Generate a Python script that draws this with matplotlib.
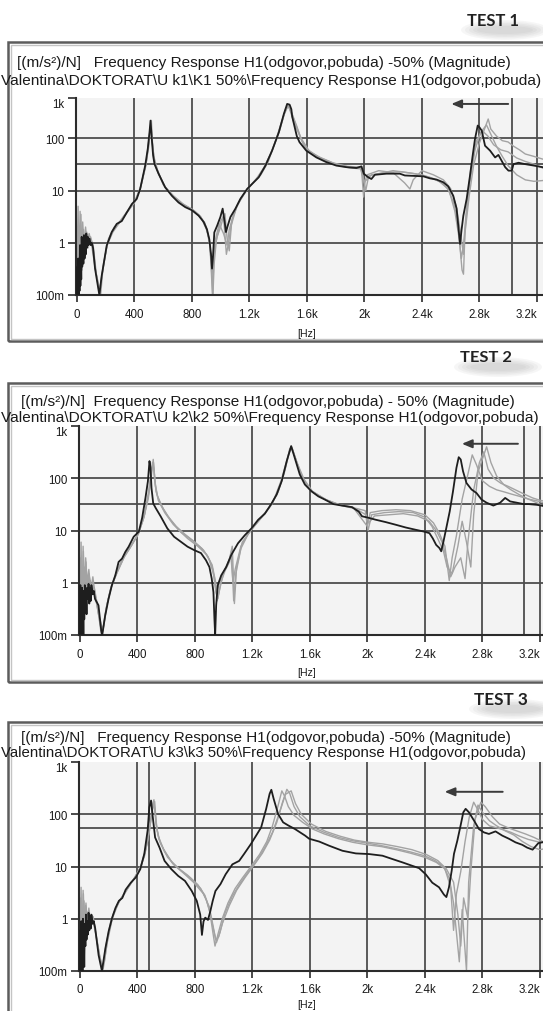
import matplotlib
matplotlib.use('Agg')
import matplotlib.pyplot as plt
from matplotlib.patches import Rectangle, Ellipse
from matplotlib.ticker import FixedLocator, FixedFormatter, NullLocator

W, H, DPI = 543, 1012, 100

# ---------------- data ----------------
xticks = [0, 400, 800, 1200, 1600, 2000, 2400, 2800, 3200]
xtick_labels = ['0', '400', '800', '1.2k', '1.6k', '2k', '2.4k', '2.8k', '3.2k']
yticks = [0.1, 1, 10, 100]
ytick_labels = ['100m', '1', '10', '100']
top_label = '1k'

test_labels = ['TEST 1', 'TEST 2', 'TEST 3']
title_line1 = ['[(m/s\u00b2)/N]   Frequency Response H1(odgovor,pobuda) -50% (Magnitude)',
               '[(m/s\u00b2)/N]  Frequency Response H1(odgovor,pobuda) - 50% (Magnitude)',
               '[(m/s\u00b2)/N]   Frequency Response H1(odgovor,pobuda) -50% (Magnitude)']
title_line2 = [r'Valentina\DOKTORAT\U k1\K1 50%\Frequency Response H1(odgovor,pobuda)',
               r'Valentina\DOKTORAT\U k2\k2 50%\Frequency Response H1(odgovor,pobuda)',
               r'Valentina\DOKTORAT\U k3\k3 50%\Frequency Response H1(odgovor,pobuda)']
x_unit = '[Hz]'

# cursor lines (Hz, magnitude)
cursor_f = [3027, 3091, 484]
cursor_m = [31.8, 31.6, 54.6]

# panel 1 (TEST 1)
t1_black = [(0,0.1),(3,0.35),(6,0.1),(9,0.5),(12,0.1),(15,0.3),(18,0.12),(21,0.9),(24,0.15),(27,0.6),
            (30,0.2),(33,1.3),(37,0.35),(41,0.8),(45,0.4),(49,1.4),(53,0.5),(57,1.2),(61,0.6),(65,1.5),
            (70,0.8),(75,1.3),(80,0.9),(88,1.2),(96,0.9),(104,1.0),(112,0.8),(126,0.32),(149,0.13),(156,0.1),
            (172,0.23),(207,0.88),(242,1.6),(277,2.3),(312,2.6),(347,3.8),(382,5.5),(416,6.9),(440,10.7),
            (475,30),(493,63),(505,130),(512,218),(521,97),(530,47),(540,32),(568,21),(614,11.5),(661,7.9),
            (707,5.9),(754,4.8),(800,4.2),(847,3.3),(882,2.5),(905,1.8),(921,1.17),(933,0.61),(940,0.32),
            (947,0.56),(956,1.58),(975,2.1),(998,3.1),(1014,4.5),(1028,2.5),(1037,1.6),(1049,2.1),(1068,3.1),
            (1103,4.5),(1137,6.9),(1184,10.7),(1219,13.4),(1265,17.9),(1312,30),(1358,58),(1405,130),
            (1440,293),(1463,455),(1480,440),(1492,360),(1498,260),(1514,170),(1530,110),(1549,84),(1596,58),
            (1666,43),(1735,35),(1805,30),(1875,28),(1945,27),(1980,29),(1996,21),(2026,18),(2049,16.6),
            (2073,20),(2154,21),(2247,21),(2282,19.4),(2410,18.7),(2456,17.1),(2503,16.2),(2549,14.4),
            (2584,12),(2619,7.9),(2642,4.5),(2656,1.8),(2666,0.95),(2677,1.8),(2689,3.3),(2712,6.9),(2735,19),
            (2754,47),(2770,97),(2789,175),(2801,162),(2817,140),(2840,72),(2875,58),(2910,43),(2933,48),
            (2956,37),(2980,28),(3003,24),(3026,24),(3038,32),(3073,34),(3119,32),(3180,30),(3240,28)]
t1_gray_a = [(0,0.3),(8,5),(14,0.4),(22,4),(30,0.6),(40,2.5),(50,0.8),(60,2.0),(70,1.0),(85,1.5),(100,1.0),
             (125,0.35),(150,0.15),(165,0.1),(180,0.3),(210,0.95),(250,1.7),(300,2.6),(350,4.0),(400,6.0),
             (440,11),(480,32),(500,70),(515,200),(522,100),(535,45),(560,25),(600,13),(660,8.3),(720,5.8),
             (800,4.4),(850,3.4),(890,2.4),(920,1.2),(935,0.4),(945,0.1),(952,0.5),(965,1.2),(990,2.3),
             (1020,1.5),(1045,0.9),(1060,1.8),(1100,4.2),(1140,7),(1190,11),(1260,18),(1310,30),(1360,60),
             (1410,140),(1445,300),(1468,430),(1500,280),(1530,170),(1560,95),(1600,58),(1700,40),(1800,31),
             (1900,27),(1980,26),(1995,7.5),(2005,15),(2050,20),(2150,22),(2250,23),(2350,21),(2450,18),
             (2520,15),(2580,11),(2620,6),(2650,2.5),(2680,0.3),(2690,0.25),(2700,1.5),(2730,8),(2760,30),
             (2800,80),(2840,160),(2862,234),(2880,150),(2920,110),(2960,90),(3000,85),(3040,70),(3080,60),
             (3120,50),(3180,45),(3240,40)]
t1_gray_b = [(0,0.1),(10,1.5),(18,0.2),(28,3.5),(36,0.3),(46,1.8),(56,0.7),(68,1.6),(80,1.1),(95,1.2),
             (110,0.9),(130,0.3),(155,0.11),(175,0.25),(210,0.9),(250,1.6),(300,2.5),(350,3.9),(400,5.8),
             (440,10.5),(480,30),(505,120),(518,220),(528,60),(545,30),(570,20),(620,11),(680,7.3),(750,5),
             (820,4),(870,2.8),(905,1.7),(925,0.9),(940,0.25),(955,0.7),(975,1.3),(1000,2.0),(1020,3.2),
             (1040,0.6),(1055,1.0),(1080,2.8),(1120,5.5),(1180,10),(1250,17),(1300,27),(1350,52),(1400,120),
             (1440,280),(1470,420),(1490,330),(1520,190),(1560,100),(1620,55),(1700,42),(1800,32),(1900,28),
             (1980,27),(2000,14),(2020,20),(2100,24),(2200,22),(2280,14),(2317,10.7),(2340,16),(2400,24),
             (2480,20),(2550,16),(2600,11),(2640,5),(2670,1.5),(2690,0.6),(2705,2.5),(2730,12),(2770,60),
             (2810,130),(2850,180),(2880,120),(2920,70),(2960,45),(3000,30),(3060,20),(3120,16),(3180,15),
             (3240,15.5)]
t1_gray_c = [(0,0.2),(6,2.0),(12,0.15),(20,1.3),(30,0.25),(42,1.5),(52,0.5),(64,1.2),(78,0.8),(95,1.3),
             (115,0.8),(135,0.25),(160,0.12),(185,0.4),(220,1.2),(260,2.0),(310,2.7),(360,4.2),(410,6.7),
             (445,12),(485,38),(505,110),(515,180),(525,80),(540,35),(565,22),(610,12),(670,8),(740,5.5),
             (810,4.2),(860,3.2),(900,2),(925,1.0),(945,0.08),(955,0.4),(970,1.1),(1000,2.6),(1030,3.6),
             (1045,1.2),(1060,0.7),(1075,2.2),(1110,4.8),(1160,8.5),(1220,13.5),(1280,20),(1330,35),(1380,85),
             (1420,190),(1455,380),(1475,400),(1510,200),(1545,120),(1590,65),(1680,44),(1780,34),(1880,29),
             (1970,28),(1990,18),(2010,10),(2030,19),(2100,21),(2200,24),(2300,22),(2400,20),(2480,17),
             (2540,14),(2590,10),(2630,4),(2660,1.2),(2675,0.5),(2690,0.9),(2710,4),(2740,25),(2780,90),
             (2820,140),(2860,110),(2900,75),(2950,60),(3000,55),(3060,42),(3120,36),(3180,32),(3240,27)]

# panel 2 (TEST 2)
t2_black = [(0,0.1),(3,0.9),(6,0.1),(9,0.5),(12,0.1),(15,0.8),(18,0.15),(21,0.4),(24,0.1),(27,0.7),
            (30,0.2),(34,0.9),(38,0.3),(42,0.6),(46,0.25),(50,0.8),(55,0.5),(60,0.95),(65,0.4),(70,0.8),
            (75,0.45),(80,0.9),(88,0.6),(96,0.7),(105,0.49),(129,0.37),(150,0.11),(155,0.1),(175,0.23),
            (199,0.49),(222,0.89),(246,1.38),(269,2.5),(293,2.9),(316,3.9),(339,4.9),(374,7.6),(410,9.5),
            (433,17.5),(456,42),(473,88),(484,213),(491,158),(498,65),(510,33),(527,27),(562,18.6),(608,11),
            (655,7.6),(702,6.1),(749,4.9),(796,4.2),(842,3.7),(877,2.7),(901,2.0),(917,1.2),(929,0.66),
            (936,0.2),(941,0.1),(948,0.37),(959,0.89),(983,1.38),(1018,2.0),(1053,3.4),(1100,5.7),(1147,8.1),
            (1194,11),(1240,16),(1287,21),(1334,33),(1369,49),(1404,88),(1439,213),(1470,413),(1495,245),
            (1530,118),(1565,76),(1612,56),(1659,45),(1705,39),(1764,32),(1823,30),(1893,28),(1940,23),
            (1963,18.7),(1998,17.8),(2057,16.1),(2127,14.5),(2197,12.9),(2268,11.4),(2338,10.3),(2397,9.5),
            (2432,8.9),(2455,7.1),(2479,5.3),(2502,4.6),(2514,4.0),(2530,6.2),(2549,11),(2573,23),(2596,56),
            (2620,158),(2636,253),(2650,228),(2666,136),(2690,81),(2725,61),(2760,52),(2795,39),(2830,34),
            (2877,30),(2924,34),(2959,42),(2994,36),(3041,34),(3088,32),(3123,32),(3180,31),(3240,29)]
t2_gray_a = [(0,0.2),(8,6),(15,0.3),(24,4),(32,0.5),(42,2.5),(52,0.6),(62,1.5),(75,0.9),(90,1.0),(110,0.5),
             (135,0.2),(155,0.1),(180,0.3),(210,0.7),(250,1.5),(300,3),(350,4.8),(400,8),(440,16),(475,40),
             (495,100),(510,230),(520,90),(540,45),(580,26),(630,16),(690,10),(750,7),(820,5),(880,3.5),
             (920,2.2),(945,1.0),(955,0.45),(970,0.7),(1000,1.6),(1040,2.8),(1060,5),(1075,0.4),(1090,2.0),
             (1130,6),(1200,11),(1280,20),(1340,33),(1400,90),(1440,220),(1468,400),(1500,240),(1540,110),
             (1600,60),(1700,40),(1800,31),(1900,28),(2000,12),(2020,22),(2100,24),(2200,25),(2300,24),
             (2400,20),(2460,14),(2500,9),(2540,5),(2570,1.1),(2590,3),(2620,8),(2660,40),(2700,120),
             (2730,280),(2760,180),(2800,90),(2850,70),(2900,60),(2950,55),(3000,50),(3060,45),(3120,40),
             (3180,37),(3240,33)]
t2_gray_b = [(0,0.1),(10,1.0),(20,0.15),(30,2.0),(40,0.3),(50,1.2),(60,0.5),(72,1.1),(85,0.7),(100,0.8),
             (120,0.4),(145,0.12),(165,0.15),(190,0.4),(220,0.85),(260,1.6),(310,3.2),(360,5.2),(410,9),
             (450,20),(480,60),(505,200),(515,150),(530,55),(560,32),(610,19),(670,12),(730,8.5),(800,6),
             (860,4.2),(900,2.8),(935,1.3),(950,0.6),(965,0.9),(990,1.4),(1030,2.3),(1050,3.5),(1065,1.0),
             (1080,1.8),(1120,5),(1180,9.5),(1250,16),(1320,28),(1380,55),(1430,160),(1460,370),(1480,350),
             (1510,200),(1560,95),(1620,55),(1720,38),(1820,30),(1920,26),(1990,20),(2010,14),(2050,19),
             (2150,20),(2250,21),(2350,19),(2430,15),(2480,10),(2520,6),(2550,3),(2580,1.3),(2610,2),(2650,3),
             (2680,1.2),(2700,6),(2740,60),(2780,200),(2810,320),(2840,150),(2880,100),(2930,80),(2980,70),
             (3030,60),(3090,50),(3150,42),(3200,38),(3240,36)]
t2_gray_c = [(0,0.3),(6,3),(14,0.2),(22,5),(30,0.6),(40,3),(50,1.0),(62,1.8),(75,0.7),(90,1.3),(105,0.6),
             (130,0.25),(160,0.12),(185,0.35),(215,0.8),(255,1.5),(305,3.0),(355,5),(405,8.5),(445,18),
             (478,50),(500,160),(512,200),(525,70),(545,38),(590,22),(650,13),(710,9),(780,6.5),(850,4.5),
             (890,3.2),(925,1.8),(945,0.7),(960,0.5),(980,1.0),(1010,1.7),(1040,2.5),(1055,4),(1070,0.45),
             (1085,1.5),(1120,4.5),(1170,8.5),(1240,15),(1310,26),(1370,48),(1420,120),(1455,300),(1475,390),
             (1505,220),(1550,100),(1610,58),(1710,39),(1810,31),(1910,27),(1985,24),(2005,10),(2030,20),
             (2120,22),(2220,23),(2320,22),(2400,18),(2450,12),(2490,7),(2530,4),(2555,2),(2590,1.5),(2630,5),
             (2660,15),(2690,6),(2720,2.0),(2740,20),(2770,130),(2800,230),(2830,400),(2860,200),(2900,110),
             (2950,75),(3000,60),(3060,48),(3120,40),(3180,34),(3240,28)]

# panel 3 (TEST 3)
t3_black = [(0,0.1),(3,0.6),(6,0.1),(9,0.9),(12,0.12),(15,0.4),(18,0.1),(21,1.0),(24,0.2),(27,0.5),
            (30,0.12),(34,0.8),(38,0.3),(42,1.2),(46,0.4),(50,0.9),(55,0.5),(60,1.3),(65,0.6),(70,1.1),
            (75,0.65),(80,1.2),(88,0.8),(96,0.9),(106,0.66),(130,0.2),(153,0.1),(177,0.27),(200,0.58),
            (224,1.04),(247,1.6),(271,2.2),(295,2.5),(318,3.6),(354,4.9),(389,6.2),(420,8.9),(448,17.5),
            (471,49),(483,136),(495,183),(507,88),(523,36),(554,23),(589,12.8),(636,8.9),(684,6.6),(731,5.3),
            (778,3.4),(813,2.2),(837,1.2),(849,0.49),(860,0.89),(872,1.05),(891,0.95),(907,1.38),(924,2.2),
            (943,3.4),(978,4.6),(1014,7.1),(1061,11),(1108,12.8),(1143,17.5),(1190,27),(1226,39),(1261,56),
            (1296,127),(1320,246),(1332,294),(1348,198),(1379,101),(1414,70),(1450,61),(1497,52),(1532,45),
            (1567,39),(1595,34),(1665,30),(1734,25),(1827,20),(1920,17.8),(2012,17.3),(2105,16.1),(2174,13.9),
            (2244,12),(2313,10.3),(2360,9.3),(2406,7.1),(2452,4.9),(2499,4.0),(2533,2.9),(2550,2.6),(2568,4),
            (2587,8.3),(2603,17.5),(2626,31),(2649,61),(2668,109),(2684,127),(2707,109),(2742,76),(2777,52),
            (2811,45),(2846,42),(2892,47),(2939,39),(2985,34),(3031,29),(3078,26),(3112,23),(3150,21),
            (3190,28),(3240,30)]
t3_gray_a = [(0,0.2),(8,4),(15,0.3),(24,3),(32,0.5),(42,2),(52,0.7),(62,1.6),(75,0.8),(90,1.0),(110,0.5),
             (135,0.2),(158,0.1),(180,0.3),(215,0.9),(260,1.9),(310,3),(360,5),(410,8),(450,16),(485,50),
             (505,150),(515,190),(528,70),(545,38),(580,22),(640,12),(700,8.5),(770,6),(840,3.8),(880,2.3),
             (905,1.3),(925,0.55),(940,0.3),(960,0.5),(990,1.0),(1030,2.0),(1080,3.8),(1130,6),(1190,10),
             (1250,17),(1300,30),(1340,60),(1380,150),(1405,280),(1425,220),(1450,140),(1490,95),(1550,70),
             (1620,52),(1700,42),(1800,34),(1900,29),(2000,26),(2100,24),(2200,21),(2300,18),(2400,15),
             (2480,12),(2540,9),(2580,4),(2600,0.6),(2620,3),(2650,8),(2680,30),(2710,90),(2740,170),(2770,120),
             (2800,80),(2850,60),(2900,55),(2950,50),(3000,45),(3060,38),(3120,33),(3180,30),(3240,28)]
t3_gray_b = [(0,0.1),(10,1.5),(20,0.2),(28,2.2),(38,0.4),(48,1.4),(58,0.6),(70,1.2),(85,0.9),(100,0.8),
             (120,0.35),(150,0.12),(170,0.15),(195,0.45),(230,1.2),(280,2.3),(330,3.8),(380,6),(430,11),
             (470,30),(500,110),(520,175),(532,60),(550,33),(590,19),(650,11),(720,7.5),(790,5),(860,3.0),
             (900,1.7),(920,0.9),(945,0.4),(965,0.45),(990,0.8),(1040,1.8),(1090,3.5),(1150,6.2),(1210,10.5),
             (1270,18),(1320,32),(1370,70),(1410,170),(1440,300),(1460,250),(1490,140),(1530,90),(1600,60),
             (1700,45),(1800,36),(1900,31),(2000,28),(2100,25),(2200,22),(2300,19),(2400,16),(2470,13),
             (2530,10),(2570,6),(2600,2),(2640,0.15),(2660,1.5),(2690,0.1),(2705,5),(2740,60),(2770,150),
             (2800,110),(2850,75),(2900,60),(2960,48),(3020,40),(3080,30),(3140,24),(3200,21),(3240,22)]
t3_gray_c = [(0,0.3),(6,2.5),(13,0.15),(22,3.5),(30,0.4),(40,1.8),(50,0.8),(62,1.4),(76,0.7),(92,1.1),
             (115,0.45),(140,0.18),(162,0.11),(190,0.35),(225,1.0),(270,2.1),(320,3.4),(370,5.5),(420,9.5),
             (460,22),(495,80),(512,170),(522,120),(538,48),(560,28),(610,15),(680,9.5),(750,6.8),(820,4.5),
             (870,2.8),(900,1.5),(925,0.7),(950,0.35),(975,0.55),(1010,1.3),(1060,2.7),(1120,5),(1180,8.5),
             (1240,14),(1290,24),(1340,45),(1390,110),(1430,240),(1470,280),(1500,160),(1540,100),(1610,65),
             (1710,47),(1810,38),(1910,32),(2010,29),(2110,27),(2210,24),(2310,21),(2410,17),(2490,13),
             (2550,9),(2600,5),(2630,1.2),(2650,0.3),(2670,2.5),(2700,1.0),(2720,8),(2750,80),(2790,170),
             (2820,140),(2870,90),(2920,65),(2980,55),(3040,48),(3100,42),(3160,36),(3220,30),(3240,29)]

black_curves = [t1_black, t2_black, t3_black]
gray_curves = [[t1_gray_a, t1_gray_b, t1_gray_c],
               [t2_gray_a, t2_gray_b, t2_gray_c],
               [t3_gray_a, t3_gray_b, t3_gray_c]]

# ---------------- layout (pixel based) ----------------
PX_PER_HZ = 0.1437
X_MIN = -10
panel_px = [dict(left=75.5, top=99, bottom=296, ymax=590, frame=(8, 43, 342),
                 t1=(17, 512, 63), t2=(1, 541, 81), unit_y=334, test=(467, 519, 21)),
            dict(left=78.5, top=427, bottom=636, ymax=1000, frame=(8, 384, 683),
                 t1=(21, 516, 402), t2=(1, 538, 418), unit_y=673, test=(460, 512, 358)),
            dict(left=78.5, top=763, bottom=972, ymax=1000, frame=(8, 723, 1060),
                 t1=(21, 510, 738), t2=(1, 526, 753), unit_y=1005, test=(474, 528, 700))]
arrow_px = [((3001, 454), (2605, 454)), ((3048, 457), (2658, 457)), ((2942, 269), (2538, 269))]

GRID_C = '#4d4d4d'
AX_BG = '#f3f3f3'
GRAY_C = '#a3a3a3'
BLACK_C = '#1e1e1e'

fig = plt.figure(figsize=(W / DPI, H / DPI), dpi=DPI)
fig.patch.set_facecolor('white')
renderer = fig.canvas.get_renderer()


def fit_text(s, x0, x1, ypx, family, weight='normal', color='#1a1a1a'):
    t = fig.text(x0 / W, 1 - ypx / H, s, fontsize=10, family=family, weight=weight,
                 va='center', ha='left', color=color)
    w = t.get_window_extent(renderer=renderer).width
    t.set_fontsize(10 * (x1 - x0) / w)
    return t


for i, p in enumerate(panel_px):
    # outer frame
    fx, ftop, fbot = p['frame']
    fig.add_artist(Rectangle((fx / W, 1 - fbot / H), (W + 40 - fx) / W, (fbot - ftop) / H,
                             transform=fig.transFigure, fill=False, ec='#5c5c5c', lw=1.8,
                             clip_on=False, zorder=0))
    fig.add_artist(Rectangle(((fx + 2.5) / W, 1 - (fbot - 2.5) / H), (W + 40 - fx) / W,
                             (fbot - ftop - 5) / H, transform=fig.transFigure, fill=False,
                             ec='#c4c4c4', lw=1.0, clip_on=False, zorder=0))

    left, top, bottom = p['left'], p['top'], p['bottom']
    ax = fig.add_axes([left / W, 1 - bottom / H, (W - left) / W, (bottom - top) / H])
    ax.set_facecolor(AX_BG)
    ax.set_yscale('log')
    xmax = X_MIN + (W - left) / PX_PER_HZ
    ax.set_xlim(X_MIN, xmax)
    ax.set_ylim(0.1, p['ymax'])

    for s in ['top', 'right']:
        ax.spines[s].set_visible(False)
    for s in ['left', 'bottom']:
        ax.spines[s].set_color('#2b2b2b')
        ax.spines[s].set_linewidth(1.5)

    # grid (drawn manually, not at the top edge)
    for xv in xticks[1:]:
        ax.axvline(xv, color=GRID_C, lw=1.3, zorder=1)
    for yv in yticks[1:]:
        ax.axhline(yv, color=GRID_C, lw=1.3, zorder=1)
    # cursor lines
    ax.axvline(cursor_f[i], color=GRID_C, lw=1.3, zorder=1)
    ax.axhline(cursor_m[i], color=GRID_C, lw=1.3, zorder=1)

    for g in gray_curves[i]:
        ax.plot([a for a, b in g], [b for a, b in g], color=GRAY_C, lw=1.0, zorder=2)
    bc = black_curves[i]
    ax.plot([a for a, b in bc], [b for a, b in bc], color=BLACK_C, lw=1.3, zorder=3)

    # ticks
    ax.xaxis.set_major_locator(FixedLocator(xticks))
    ax.xaxis.set_major_formatter(FixedFormatter(xtick_labels))
    ax.yaxis.set_major_locator(FixedLocator(yticks + [p['ymax']]))
    ax.yaxis.set_major_formatter(FixedFormatter(ytick_labels + [top_label]))
    ax.yaxis.set_minor_locator(NullLocator())
    ax.xaxis.set_minor_locator(NullLocator())
    ax.tick_params(axis='both', direction='out', color='#2b2b2b', width=1.2,
                   labelsize=8.3, labelcolor='#1a1a1a')
    ax.tick_params(axis='y', length=6, pad=2)
    ax.tick_params(axis='x', length=5, pad=4)
    for lbl in ax.get_xticklabels() + ax.get_yticklabels():
        lbl.set_family('Liberation Sans')
    xl = ax.get_xticklabels()
    xl[-1].set_ha('right')
    yl = ax.get_yticklabels()
    yl[-1].set_va('top')

    # arrow
    (xa, ya), (xb, yb) = arrow_px[i]
    ax.annotate('', xy=(xb, yb), xytext=(xa, ya),
                arrowprops=dict(arrowstyle='-|>,head_length=0.6,head_width=0.25',
                                color='#3a3a3a', lw=1.4, shrinkA=0, shrinkB=0), zorder=4)

    # titles
    x0, x1, yy = p['t1']
    fit_text(title_line1[i], x0, x1, yy, 'Liberation Sans')
    x0, x1, yy = p['t2']
    fit_text(title_line2[i], x0, x1, yy, 'Liberation Sans')
    fig.text(307 / W, 1 - p['unit_y'] / H, x_unit, fontsize=7.6, family='Liberation Sans',
             ha='center', va='center', color='#1a1a1a')

    # TEST label with soft shadow
    x0, x1, yy = p['test']
    for k in range(5):
        fig.add_artist(Ellipse(((x0 + x1) / 2 / W + 12 / W, 1 - (yy + 10) / H),
                               (56 + 8 * k) / W, (8 + 3 * k) / H, transform=fig.transFigure,
                               color='#8a8a8a', alpha=0.07, lw=0, zorder=0))
    fit_text(test_labels[i], x0, x1, yy, 'Lato', weight='bold', color='#222222')

fig.savefig('out.png', dpi=DPI, facecolor='white')
